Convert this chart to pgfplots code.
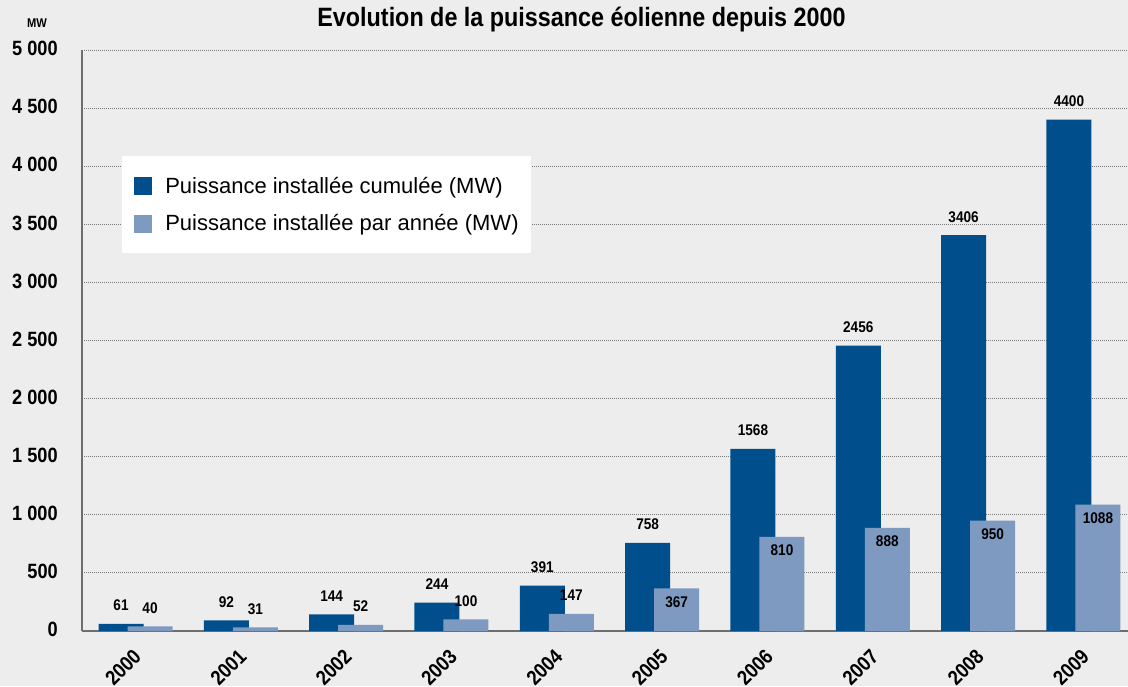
\documentclass[border=0pt]{standalone}
\usepackage{pgfplots}
\pgfplotsset{compat=1.18}
\usepackage{pgfplotstable}
\usepackage{fontspec}
\setmainfont{Liberation Sans}
\newfontfamily\condb{Liberation Sans}[FakeStretch=0.88]
\definecolor{bgc}{HTML}{ECEDEC}
\definecolor{darkb}{HTML}{004F8C}
\definecolor{lightb}{HTML}{7E9AC1}
\definecolor{axisgray}{HTML}{6E6E6E}
\definecolor{gridgray}{HTML}{7A7A7A}

\pgfplotstableread{
x cum
0 61
1 92
2 144
3 244
4 391
5 758
6 1568
7 2456
8 3406
9 4400
}\cumtable
\pgfplotstableread{
x an
0 40
1 31
2 52
3 100
4 147
}\antableA
\pgfplotstableread{
x an
5 367
6 810
7 888
8 950
9 1088
}\antableB

\pgfplotsset{sqlegend/.style={legend image code/.code={\fill[##1] (0pt,-6.75pt) rectangle (13.5pt,6.75pt);}}}

\begin{document}
\begin{tikzpicture}
\path[fill=bgc, use as bounding box] (-61.5pt,-41.25pt) rectangle (784.5pt,473.25pt);
\begin{axis}[
  at={(0pt,0pt)}, anchor=south west,
  scale only axis, width=784.5pt, height=435.75pt,
  xmin=-0.508, xmax=9.423, ymin=0, ymax=5000,
  axis x line*=bottom, axis y line*=left,
  axis line style={-, draw=axisgray, line width=1.8pt},
  xtick={0,1,2,3,4,5,6,7,8,9},
  xticklabels={2000,2001,2002,2003,2004,2005,2006,2007,2008,2009},
  ytick={0,500,1000,1500,2000,2500,3000,3500,4000,4500,5000},
  yticklabels={0,500,1 000,1 500,2 000,2 500,3 000,3 500,4 000,4 500,5 000},
  major tick length=0pt,
  ymajorgrids,
  grid style={draw=gridgray, line width=0.75pt, dash pattern=on 0.75pt off 0.75pt},
  /pgf/number format/assume math mode=true,
  tick label style={font=\condb\bfseries\fontsize{15.5}{17}\selectfont, text=black},
  yticklabel style={anchor=east, inner sep=0pt, xshift=-18pt, yshift=1pt},
  xticklabel style={inner sep=0pt, xshift=-2.5pt, yshift=-12.5pt, rotate=45, anchor=north east},
  title={Evolution de la puissance éolienne depuis 2000},
  title style={at={(rel axis cs:0.4775,1)}, anchor=base, yshift=11.5pt, inner sep=0pt,
    font=\condb\bfseries\fontsize{19.9}{22}\selectfont, text=black},
  legend style={at={(rel axis cs:0.03824,0.8176)}, anchor=north west, draw=none, fill=white,
    inner xsep=9pt, inner ysep=15.5pt, row sep=14.5pt, column sep=9.75pt,
    font=\fontsize{16.5}{19}\selectfont, nodes={inner sep=0pt, text=black}},
  legend cell align=left,
  every node near coord/.append style={font=\condb\bfseries\fontsize{11.6}{13}\selectfont, text=black, inner sep=0pt},
  point meta=explicit symbolic,
  extra description/.code={
    \node[font=\condb\bfseries\fontsize{9.5}{11}\selectfont, text=black, inner sep=0pt] at (rel axis cs:-0.043,1.0465) {MW};
  },
]
\addplot[ybar, bar width=33.75pt, bar shift=-10.875pt, fill=darkb, draw=none, sqlegend,
  nodes near coords, every node near coord/.append style={xshift=-10.875pt, yshift=9.5pt}]
  table[x=x, y=cum, meta=cum] {\cumtable};
\addlegendentry{Puissance installée cumulée (MW)}
\addplot[ybar, bar width=33.75pt, bar shift=10.875pt, fill=lightb, draw=none, sqlegend,
  nodes near coords, every node near coord/.append style={xshift=10.875pt, yshift=9.5pt}]
  table[x=x, y=an, meta=an] {\antableA};
\addlegendentry{Puissance installée par année (MW)}
\addplot[ybar, bar width=33.75pt, bar shift=10.875pt, fill=lightb, draw=none, forget plot,
  nodes near coords, every node near coord/.append style={xshift=10.875pt, yshift=-14.5pt}]
  table[x=x, y=an, meta=an] {\antableB};
\end{axis}
\end{tikzpicture}
\end{document}
